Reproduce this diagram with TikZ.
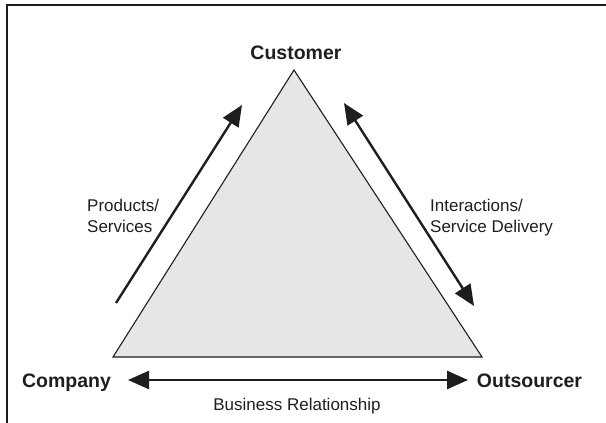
\documentclass[tikz,border=0pt]{standalone}
\usepackage{fontspec}
\setmainfont{Liberation Sans}
\usetikzlibrary{arrows.meta}
\definecolor{tri}{HTML}{E6E6E6}
\definecolor{ink}{HTML}{1E1E1E}
\begin{document}
\begin{tikzpicture}[x=1pt,y=-1pt,
  corner/.style={font=\bfseries\fontsize{19.5}{22}\selectfont, text=ink, inner sep=0pt, anchor=base},
  lbl/.style={font=\fontsize{17}{21}\selectfont, align=left, text=ink, inner sep=0pt, anchor=base west},
  flow/.style={line width=2.4pt, draw=ink, -{Triangle[length=21pt,width=18pt]}},
  flowboth/.style={line width=2.4pt, draw=ink, {Triangle[length=21pt,width=18pt]}-{Triangle[length=21pt,width=18pt]}},
  frame/.style={line width=1.8pt, draw=ink}
]
\useasboundingbox (0,0) rectangle (606,423);
% frame (only top and left edges visible)
\draw[frame] (606,5) -- (7,5) -- (7,423);
% triangle
\coordinate (apex) at (294,70);
\coordinate (bl) at (113,357);
\coordinate (br) at (482,357);
\filldraw[fill=tri, draw=ink, line width=1.1pt, line join=miter] (apex) -- (bl) -- (br) -- cycle;
% corner labels
\node[corner] (cust) at (296,59) {Customer};
\node[corner] (comp) at (66.5,387) {Company};
\node[corner] (outs) at (529.5,387) {Outsourcer};
% arrow end points
\coordinate (ps1) at (116,303);
\coordinate (ps2) at (242,105);
\coordinate (is1) at (344,103);
\coordinate (is2) at (474,306);
\coordinate (br1) at (128,380);
\coordinate (br2) at (468,380);
\draw[flow] (ps1) -- (ps2);
\draw[flowboth] (is1) -- (is2);
\draw[flowboth] (br1) -- (br2);
% labels
\node[lbl] (lps) at (87,232) {Products/\\Services};
\node[lbl] (lis) at (430,232) {Interactions/\\Service Delivery};
\node[font=\fontsize{17}{21}\selectfont, text=ink, inner sep=0pt, anchor=base] (lbr) at (297,410) {Business Relationship};
\end{tikzpicture}
\end{document}
